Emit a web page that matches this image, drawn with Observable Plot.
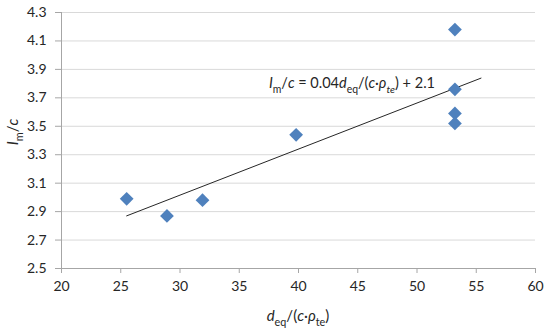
<!DOCTYPE html>
<html>
<head>
<meta charset="utf-8">
<script src="https://cdn.jsdelivr.net/npm/d3@7"></script>
<script src="https://cdn.jsdelivr.net/npm/@observablehq/plot@0.6"></script>
<style>
  html, body { margin: 0; padding: 0; background: #fff; }
  #chart { width: 550px; height: 328px; }
  svg { font-family: Lato, "Open Sans", sans-serif; }
</style>
</head>
<body>
<div id="chart"></div>
<script>
// Data
const xValues = [25.5, 28.9, 31.9, 39.8, 53.2, 53.2, 53.2, 53.2];
const yValues = [2.99, 2.87, 2.98, 3.44, 4.18, 3.76, 3.59, 3.52];
const xTicks = [20, 25, 30, 35, 40, 45, 50, 55, 60];
const yTicks = [2.5, 2.7, 2.9, 3.1, 3.3, 3.5, 3.7, 3.9, 4.1, 4.3];
const trendForward = 2.2; // Excel trendline forecast forward
const annotation = {x: 37.5, y: 3.8};

const points = xValues.map((x, i) => ({x, y: yValues[i]}));

// least squares trend line
const mx = d3.mean(xValues), my = d3.mean(yValues);
const slope = d3.sum(points, p => (p.x - mx) * (p.y - my)) / d3.sum(points, p => (p.x - mx) ** 2);
const intercept = my - slope * mx;
const x0 = d3.min(xValues), x1 = d3.max(xValues) + trendForward;
const trend = [x0, x1].map(x => ({x, y: intercept + slope * x}));

const axisColor = "#a6a6a6";

const chart = Plot.plot({
  width: 550,
  height: 328,
  marginLeft: 61,
  marginRight: 15,
  marginTop: 12,
  marginBottom: 60,
  style: {fontFamily: "Lato, 'Open Sans', sans-serif", fontSize: "14px", color: "#262626", background: "#fff"},
  x: {domain: [20, 60]},
  y: {domain: [2.5, 4.3]},
  marks: [
    Plot.gridY(yTicks, {stroke: "#d9d9d9", strokeOpacity: 1}),
    Plot.axisY(yTicks, {tickFormat: d3.format(".1f"), tickSize: 6, tickPadding: 9, stroke: axisColor, label: null}),
    Plot.axisX(xTicks, {tickFormat: d3.format("d"), tickSize: 5, tickPadding: 8, stroke: axisColor, label: null}),
    Plot.ruleY([2.5], {stroke: axisColor}),
    Plot.ruleX([20], {stroke: axisColor}),
    Plot.line(trend, {x: "x", y: "y", stroke: "#262626", strokeWidth: 1}),
    Plot.dot(points, {x: "x", y: "y", symbol: "diamond2", r: 6.2, fill: "#4f81bd", stroke: "none"}),
    Plot.text([annotation], {x: "x", y: "y", text: () => "eq", textAnchor: "start", fontSize: 14.5, fill: "#262626", className: "eqn"})
  ]
});

document.getElementById("chart").appendChild(chart);

const svg = d3.select(chart);

function rich(sel, parts, fs) {
  sel.text(null);
  let shift = 0;
  parts.forEach(p => {
    const t = sel.append("tspan").text(p.t);
    if (p.i) t.attr("font-style", "italic");
    const target = p.sub ? 0.3 * fs : 0;
    if (target !== shift) { t.attr("dy", target - shift); shift = target; }
    if (p.sub) t.attr("font-size", fs * 0.72);
  });
}

// Equation annotation
const eqFs = 14.5;
svg.selectAll(".eqn text").each(function() {
  rich(d3.select(this), [
    {t: "I", i: true}, {t: "m", sub: true}, {t: "/"}, {t: "c", i: true}, {t: " = 0.04"},
    {t: "d", i: true}, {t: "eq", sub: true}, {t: "/("}, {t: "c", i: true}, {t: "·"},
    {t: "ρ", i: true}, {t: "te", sub: true, i: true}, {t: ") + 2.1"}
  ], eqFs);
});

// Axis titles
const labFs = 15;
const xl = svg.append("text")
  .attr("x", 298).attr("y", 321)
  .attr("text-anchor", "middle")
  .attr("font-size", labFs).attr("fill", "#262626");
rich(xl, [
  {t: "d", i: true}, {t: "eq", sub: true}, {t: "/("}, {t: "c", i: true}, {t: "·"},
  {t: "ρ", i: true}, {t: "te", sub: true}, {t: ")"}
], labFs);

const yl = svg.append("text")
  .attr("transform", "translate(18,132) rotate(-90)")
  .attr("text-anchor", "middle")
  .attr("font-size", labFs).attr("fill", "#262626");
rich(yl, [
  {t: "I", i: true}, {t: "m", sub: true}, {t: "/"}, {t: "c", i: true}
], labFs);
</script>
</body>
</html>
